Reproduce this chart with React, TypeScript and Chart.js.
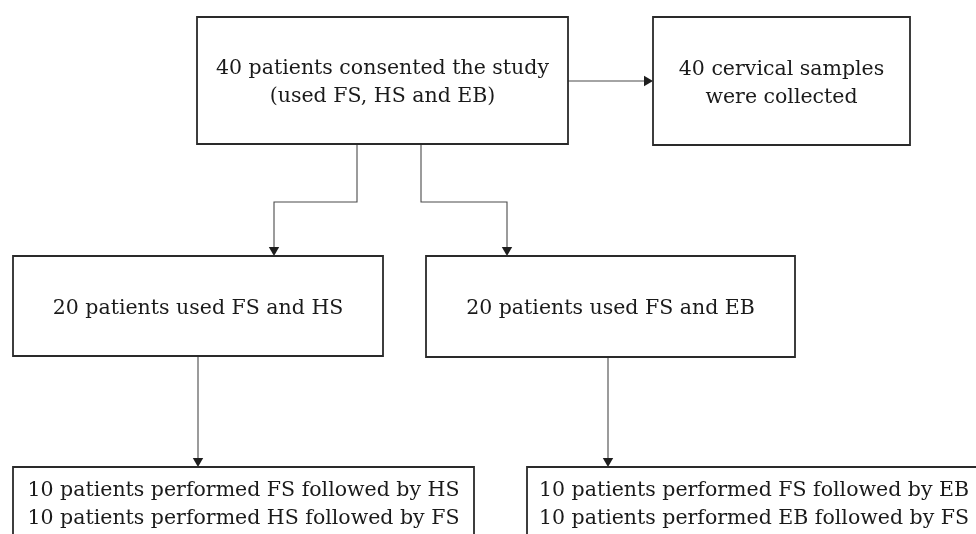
import React, { useEffect, useRef } from "react";
import { Chart, registerables } from "chart.js";

Chart.register(...registerables);

// Diagram units: the chart's own x / y scales (0..976, 0..534, y downward)
const nodeLabels: string[][] = [
  ["40 patients consented the study", "(used FS, HS and EB)"],
  ["40 cervical samples", "were collected"],
  ["20 patients used FS and HS"],
  ["20 patients used FS and EB"],
  ["10 patients performed FS followed by HS", "10 patients performed HS followed by FS"],
  ["10 patients performed FS followed by EB", "10 patients performed EB followed by FS"],
];
const nodeLeft = [197, 653, 13, 426, 13, 527];
const nodeRight = [568, 910, 383, 795, 474, 981];
const nodeTop = [17, 17, 256, 256, 467, 467];
const nodeBottom = [144, 145, 356, 357, 538, 538];

// connector routes (diagram units), arrow at the last point
const edgeRoutes: number[][][] = [
  [[568, 81], [653, 81]],
  [[357, 144], [357, 202], [274, 202], [274, 256]],
  [[421, 144], [421, 202], [507, 202], [507, 256]],
  [[198, 356], [198, 467]],
  [[608, 357], [608, 467]],
];

const X_MAX = 976;
const Y_MAX = 534;
const ARROW_R = 6;

const FONT = '20.5px "DejaVu Serif"';
const LINE_GAP = 28;

function boxDataset(i: number) {
  const l = nodeLeft[i], r = nodeRight[i], t = nodeTop[i], b = nodeBottom[i];
  return {
    data: [
      { x: l, y: t },
      { x: r, y: t },
      { x: r, y: b },
      { x: l, y: b },
      { x: l, y: t },
    ],
    borderColor: "#2a2a2a",
    borderWidth: 1.8,
    borderJoinStyle: "miter" as const,
    borderCapStyle: "square" as const,
    pointRadius: 0,
    tension: 0,
    fill: false,
  };
}

function edgeDataset(route: number[][]) {
  const n = route.length;
  const [px, py] = route[n - 2];
  const [tx, ty] = route[n - 1];
  const len = Math.hypot(tx - px, ty - py) || 1;
  const dx = (tx - px) / len, dy = (ty - py) / len;
  const pts = route.slice(0, n - 1).map(([x, y]) => ({ x, y }));
  pts.push({ x: tx - dx * ARROW_R, y: ty - dy * ARROW_R });
  const rot = (Math.atan2(dx, -dy) * 180) / Math.PI;
  return {
    data: pts,
    borderColor: "#4a4a4a",
    borderWidth: 1.1,
    pointStyle: "triangle" as const,
    pointRadius: pts.map((_, k) => (k === pts.length - 1 ? ARROW_R : 0)),
    pointRotation: rot,
    pointBackgroundColor: "#1e1e1e",
    pointBorderColor: "#1e1e1e",
    pointBorderWidth: 0,
    tension: 0,
    fill: false,
  };
}

const labelPlugin = {
  id: "nodeLabels",
  afterDatasetsDraw(chart: any) {
    const { ctx, scales } = chart;
    const xs = scales.x, ys = scales.y;
    ctx.save();
    ctx.font = FONT;
    ctx.fillStyle = "#1a1a1a";
    ctx.textAlign = "center";
    ctx.textBaseline = "alphabetic";
    nodeLabels.forEach((lines, i) => {
      const cx = xs.getPixelForValue((nodeLeft[i] + nodeRight[i]) / 2);
      const cy = ys.getPixelForValue((nodeTop[i] + nodeBottom[i]) / 2);
      lines.forEach((txt, k) => {
        const off = (k - (lines.length - 1) / 2) * LINE_GAP;
        ctx.fillText(txt, cx, cy + 7.5 + off);
      });
    });
    ctx.restore();
  },
};

export default function App() {
  const ref = useRef<HTMLCanvasElement | null>(null);
  useEffect(() => {
    if (!ref.current) return;
    const datasets: any[] = [
      ...nodeLabels.map((_, i) => boxDataset(i)),
      ...edgeRoutes.map((r) => edgeDataset(r)),
    ];
    const chart = new Chart(ref.current, {
      type: "line",
      data: { datasets },
      options: {
        animation: false,
        responsive: false,
        devicePixelRatio: 1,
        events: [],
        layout: { padding: 0, autoPadding: false },
        plugins: {
          legend: { display: false },
          tooltip: { enabled: false },
          title: { display: false },
        },
        scales: {
          x: { type: "linear", min: 0, max: X_MAX, display: false },
          y: { type: "linear", min: 0, max: Y_MAX, reverse: true, display: false },
        },
      },
      plugins: [labelPlugin],
    } as any);
    return () => chart.destroy();
  }, []);
  return (
    <div style={{ position: "fixed", left: 0, top: 0, width: 976, height: 534, background: "#fff" }}>
      <canvas ref={ref} width={976} height={534} style={{ display: "block", width: 976, height: 534 }} />
    </div>
  );
}
